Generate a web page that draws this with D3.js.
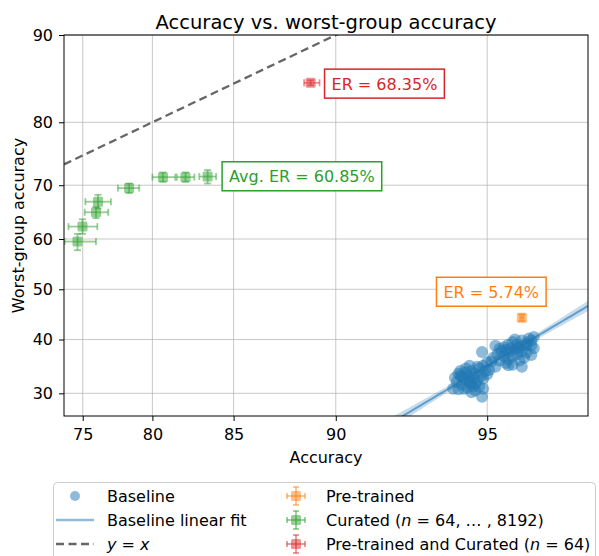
<!DOCTYPE html>
<html><head><meta charset="utf-8">
<script src="https://cdn.jsdelivr.net/npm/d3@7"></script>
<style>body{margin:0;background:#fff;} text{font-family:"DejaVu Sans",sans-serif;fill:#000;}</style>
</head><body><svg id="chart" width="599" height="556"></svg>
<script>
// ---------- data ----------
const xTicks = [75, 80, 85, 90, 95];
const yTicks = [30, 40, 50, 60, 70, 80, 90];
const xDomain = [73.55, 97.04];
const yDomain = [26.15, 90];

const baselineX = [94.10,94.15,94.20,94.25,94.25,94.30,94.30,94.35,94.40,94.40,94.45,94.45,94.50,94.50,94.55,94.55,94.60,94.60,94.60,94.65,94.65,94.70,94.70,94.75,94.75,94.80,94.80,94.85,94.87,94.87,94.90,94.90,94.90,94.95,95.00,95.00,95.05,95.10,94.35,94.55,94.70,
  95.15,95.20,95.20,95.25,95.30,95.30,95.35,95.40,95.40,95.45,95.50,95.50,95.50,95.50,95.55,95.60,95.60,95.60,95.65,95.65,95.70,95.70,95.75,95.75,95.80,95.80,95.80,95.85,95.85,95.90,95.90,95.95,96.00,96.00,96.00,96.05,96.05,95.70,95.90,95.45];
const baselineY = [30.8,32.8,32.0,33.5,30.7,33.2,34.0,31.5,32.6,30.8,33.8,34.5,31.0,32.2,33.0,35.0,34.0,31.8,30.2,32.9,31.2,30.5,33.5,32.3,34.8,34.5,31.2,33.1,29.4,37.6,35.0,32.6,30.8,34.0,33.4,35.6,34.2,35.8,33.0,32.0,31.8,
  36.5,34.8,38.8,37.2,36.0,38.2,37.8,36.8,38.5,35.5,37.5,39.0,36.2,35.1,38.2,36.8,39.5,35.2,38.0,40.0,37.2,39.0,38.5,36.0,39.8,37.8,34.8,38.8,36.5,39.3,37.5,40.2,38.9,39.8,37.0,38.3,40.5,38.3,38.9,38.0];

// Linear fit in probit space: probit(y) = fitIntercept + fitSlope * probit(x)
const fitSlope = 1.248;
const fitIntercept = -2.4386;
const fitBand = [0.010, 0.105, 1.66]; // se0, se1, centre (probit units)

// Curated (n = 64 ... 8192)
const curatedX    = [80.7, 82.15, 83.5, 78.4, 76.15, 76.0, 74.98, 74.6];
const curatedY    = [71.4, 71.4, 71.5, 69.5, 67.05, 65.1, 62.4, 59.5];
const curatedXlo  = [80.0, 81.6, 83.0, 77.6, 75.2, 75.15, 73.9, 73.6];
const curatedXhi  = [81.5, 82.7, 84.0, 79.1, 77.1, 76.9, 76.1, 76.0];
const curatedYlo  = [70.6, 70.6, 70.3, 68.6, 65.8, 64.0, 61.0, 57.8];
const curatedYhi  = [72.2, 72.2, 72.6, 70.3, 68.3, 66.1, 63.8, 61.0];

// Pre-trained
const pretrainedX = [95.8], pretrainedY = [44.3];
const pretrainedXlo = [95.76], pretrainedXhi = [95.84], pretrainedYlo = [43.6], pretrainedYhi = [45.0];

// Pre-trained and Curated
const bothX = [88.9], bothY = [85.1];
const bothXlo = [88.6], bothXhi = [89.3], bothYlo = [84.8], bothYhi = [85.4];

const annotTexts = ["ER = 68.35%", "Avg. ER = 60.85%", "ER = 5.74%"];
const annotX = [91.9, 88.5, 95.1];
const annotY = [85.0, 71.55, 49.5];

const legendLabels = ["Baseline", "Baseline linear fit", "y = x", "Pre-trained", "Curated (n = 64, … , 8192)", "Pre-trained and Curated (n = 64)"];

const C_BLUE = "#1f77b4", C_ORANGE = "#ff7f0e", C_GREEN = "#2ca02c", C_RED = "#d62728";

// ---------- probit ----------
function probit(p){
  const a=[-3.969683028665376e+01,2.209460984245205e+02,-2.759285104469687e+02,1.383577518672690e+02,-3.066479806614716e+01,2.506628277459239e+00];
  const b=[-5.447609879822406e+01,1.615858368580409e+02,-1.556989798598866e+02,6.680131188771972e+01,-1.328068155288572e+01];
  const c=[-7.784894002430293e-03,-3.223964580411365e-01,-2.400758277161838e+00,-2.549732539343734e+00,4.374664141464968e+00,2.938163982698783e+00];
  const d=[7.784695709041462e-03,3.224671290700398e-01,2.445134137142996e+00,3.754408661907416e+00];
  const pl=0.02425, ph=1-pl; let q,r;
  if(p<pl){q=Math.sqrt(-2*Math.log(p));return (((((c[0]*q+c[1])*q+c[2])*q+c[3])*q+c[4])*q+c[5])/((((d[0]*q+d[1])*q+d[2])*q+d[3])*q+1);}
  if(p<=ph){q=p-0.5;r=q*q;return (((((a[0]*r+a[1])*r+a[2])*r+a[3])*r+a[4])*r+a[5])*q/(((((b[0]*r+b[1])*r+b[2])*r+b[3])*r+b[4])*r+1);}
  q=Math.sqrt(-2*Math.log(1-p));return -(((((c[0]*q+c[1])*q+c[2])*q+c[3])*q+c[4])*q+c[5])/((((d[0]*q+d[1])*q+d[2])*q+d[3])*q+1);
}
const P = v => probit(v/100);

// ---------- layout ----------
const L = 64, R = 588, T = 35, B = 416;
const svg = d3.select("#chart");
const px = d3.scaleLinear().domain([P(xDomain[0]), P(xDomain[1])]).range([L, R]);
const py = d3.scaleLinear().domain([P(yDomain[0]), P(yDomain[1])]).range([B, T]);
const X = v => px(P(v)), Y = v => py(P(v));

svg.append("defs").append("clipPath").attr("id","clip")
  .append("rect").attr("x",L).attr("y",T).attr("width",R-L).attr("height",B-T);

// grid
const grid = svg.append("g");
grid.selectAll(".gx").data(xTicks).join("line")
  .attr("x1",d=>X(d)).attr("x2",d=>X(d)).attr("y1",T).attr("y2",B)
  .attr("stroke","#b0b0b0").attr("stroke-opacity",0.7).attr("stroke-width",1);
grid.selectAll(".gy").data(yTicks).join("line")
  .attr("y1",d=>Y(d)).attr("y2",d=>Y(d)).attr("x1",L).attr("x2",R)
  .attr("stroke","#b0b0b0").attr("stroke-opacity",0.7).attr("stroke-width",1);

const plot = svg.append("g").attr("clip-path","url(#clip)");

// y = x line
const pxMin = px.domain()[0], pxMax = px.domain()[1];
plot.append("line")
  .attr("x1", px(pxMin)).attr("y1", py(pxMin))
  .attr("x2", px(pxMax)).attr("y2", py(pxMax))
  .attr("stroke","#000").attr("stroke-opacity",0.6).attr("stroke-width",2.3)
  .attr("stroke-dasharray","8,4.5");

// fit band + line
const fitXs = d3.range(0, 101).map(i => pxMin + (pxMax - pxMin) * i / 100);
const fy = t => fitIntercept + fitSlope * t;
const hw = t => Math.sqrt(fitBand[0]**2 + (fitBand[1]*(t - fitBand[2]))**2);
plot.append("path").datum(fitXs)
  .attr("d", d3.area().x(t=>px(t)).y0(t=>py(fy(t)-hw(t))).y1(t=>py(fy(t)+hw(t))))
  .attr("fill", C_BLUE).attr("fill-opacity", 0.25);
plot.append("path").datum(fitXs)
  .attr("d", d3.line().x(t=>px(t)).y(t=>py(fy(t))))
  .attr("fill","none").attr("stroke", C_BLUE).attr("stroke-opacity",0.6).attr("stroke-width",2);

// baseline points
plot.selectAll(".bp").data(baselineX.map((x,i)=>[x, baselineY[i]])).join("circle")
  .attr("cx", d=>X(d[0])).attr("cy", d=>Y(d[1])).attr("r", 6)
  .attr("fill", C_BLUE).attr("fill-opacity", 0.5);

// errorbar series
function errSeries(xs, ys, xlo, xhi, ylo, yhi, color){
  const g = plot.append("g");
  xs.forEach((x,i)=>{
    const cx = X(x), cy = Y(ys[i]);
    const e = g.append("g").attr("stroke", color).attr("stroke-opacity",0.5).attr("stroke-width",1.8);
    const x0 = X(xlo[i]), x1 = X(xhi[i]), y0 = Y(ylo[i]), y1 = Y(yhi[i]);
    e.append("line").attr("x1",x0).attr("x2",x1).attr("y1",cy).attr("y2",cy);
    e.append("line").attr("x1",cx).attr("x2",cx).attr("y1",y0).attr("y2",y1);
    [x0,x1].forEach(xx=>e.append("line").attr("x1",xx).attr("x2",xx).attr("y1",cy-3.5).attr("y2",cy+3.5));
    [y0,y1].forEach(yy=>e.append("line").attr("y1",yy).attr("y2",yy).attr("x1",cx-3.5).attr("x2",cx+3.5));
    g.append("rect").attr("x",cx-5).attr("y",cy-5).attr("width",10).attr("height",10).attr("rx",1.5)
      .attr("fill",color).attr("fill-opacity",0.5);
  });
}
errSeries(pretrainedX, pretrainedY, pretrainedXlo, pretrainedXhi, pretrainedYlo, pretrainedYhi, C_ORANGE);
errSeries(curatedX, curatedY, curatedXlo, curatedXhi, curatedYlo, curatedYhi, C_GREEN);
errSeries(bothX, bothY, bothXlo, bothXhi, bothYlo, bothYhi, C_RED);

// spines
svg.append("rect").attr("x",L).attr("y",T).attr("width",R-L).attr("height",B-T)
  .attr("fill","none").attr("stroke","#000").attr("stroke-width",1);

// axes
const xAxis = svg.append("g").attr("transform",`translate(0,${B})`)
  .call(d3.axisBottom(px).tickValues(xTicks.map(P)).tickFormat((d,i)=>xTicks[i]).tickSizeOuter(0).tickSize(5).tickPadding(8));
const yAxis = svg.append("g").attr("transform",`translate(${L},0)`)
  .call(d3.axisLeft(py).tickValues(yTicks.map(P)).tickFormat((d,i)=>yTicks[i]).tickSizeOuter(0).tickSize(5).tickPadding(6));
[xAxis, yAxis].forEach(a=>{
  a.select(".domain").remove();
  a.selectAll("text").style("font-size","16px").style("font-family","DejaVu Sans").attr("fill","#000");
  a.selectAll("line").attr("stroke","#000");
});

// labels
svg.append("text").attr("x",(L+R)/2).attr("y",29).attr("text-anchor","middle")
  .style("font-size","19.5px").text("Accuracy vs. worst-group accuracy");
svg.append("text").attr("x",(L+R)/2).attr("y",463).attr("text-anchor","middle")
  .style("font-size","16px").text("Accuracy");
svg.append("text").attr("transform",`translate(24,${(T+B)/2}) rotate(-90)`).attr("text-anchor","middle")
  .style("font-size","16px").text("Worst-group accuracy");

// annotations
const annColors = [C_RED, C_GREEN, C_ORANGE];
annotTexts.forEach((t,i)=>{
  const g = svg.append("g");
  const cx = X(annotX[i]), cy = Y(annotY[i]);
  const txt = g.append("text").attr("x",cx).attr("y",cy+6).attr("text-anchor","middle")
    .style("font-size","16px").attr("fill",annColors[i]).style("fill",annColors[i]).text(t);
  const w = txt.node().getComputedTextLength();
  g.insert("rect","text").attr("x",cx-w/2-7).attr("y",cy-14.5).attr("width",w+14).attr("height",29)
    .attr("fill","#fff").attr("stroke",annColors[i]).attr("stroke-width",1.5);
});

// legend
const lg = svg.append("g");
lg.append("rect").attr("x",53.5).attr("y",482.5).attr("width",542).attr("height",90).attr("rx",4)
  .attr("fill","#fff").attr("stroke","#cccccc").attr("stroke-width",1);
const rows = [496, 520, 544];
const c1m = 75, c1t = 107, c2m = 296, c2t = 326;
lg.append("circle").attr("cx",c1m).attr("cy",rows[0]).attr("r",5).attr("fill",C_BLUE).attr("fill-opacity",0.5);
lg.append("line").attr("x1",56).attr("x2",94).attr("y1",rows[1]).attr("y2",rows[1])
  .attr("stroke",C_BLUE).attr("stroke-opacity",0.5).attr("stroke-width",2.5);
lg.append("line").attr("x1",56).attr("x2",94).attr("y1",rows[2]).attr("y2",rows[2])
  .attr("stroke","#000").attr("stroke-opacity",0.6).attr("stroke-width",2.3).attr("stroke-dasharray","8,4.5");
[C_ORANGE, C_GREEN, C_RED].forEach((col,i)=>{
  const cy = rows[i], e = lg.append("g").attr("stroke",col).attr("stroke-opacity",0.5).attr("stroke-width",1.8);
  e.append("line").attr("x1",c2m-9).attr("x2",c2m+9).attr("y1",cy).attr("y2",cy);
  e.append("line").attr("x1",c2m).attr("x2",c2m).attr("y1",cy-9).attr("y2",cy+9);
  [-9,9].forEach(o=>{
    e.append("line").attr("x1",c2m+o).attr("x2",c2m+o).attr("y1",cy-3).attr("y2",cy+3);
    e.append("line").attr("y1",cy+o).attr("y2",cy+o).attr("x1",c2m-3).attr("x2",c2m+3);
  });
  lg.append("rect").attr("x",c2m-5).attr("y",cy-5).attr("width",10).attr("height",10).attr("rx",1.5).attr("fill",col).attr("fill-opacity",0.5);
});
function legText(x, y, parts){
  const t = lg.append("text").attr("x",x).attr("y",y+6).style("font-size","16px");
  parts.forEach(p=>{ const s = t.append("tspan").text(p[0]); if(p[1]) s.style("font-style","italic"); });
}
legText(c1t, rows[0], [[legendLabels[0]]]);
legText(c1t, rows[1], [[legendLabels[1]]]);
legText(c1t, rows[2], [["y",1],[" = "],["x",1]]);
legText(c2t, rows[0], [[legendLabels[3]]]);
legText(c2t, rows[1], [["Curated ("],["n",1],[" = 64, … , 8192)"]]);
legText(c2t, rows[2], [["Pre-trained and Curated ("],["n",1],[" = 64)"]]);
</script></body></html>
